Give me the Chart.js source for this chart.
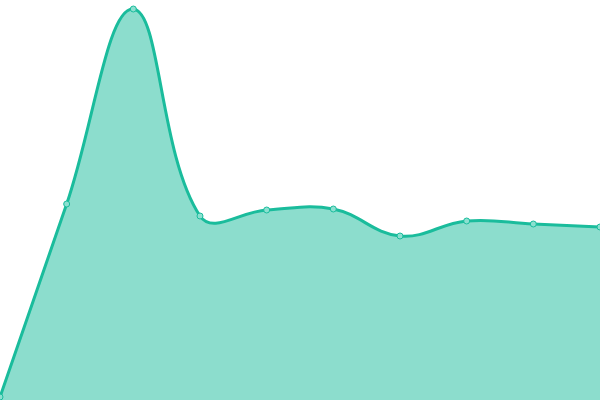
<!DOCTYPE html>
<html><head><meta charset="utf-8">
<script src="https://cdn.jsdelivr.net/npm/chart.js@4"></script>
<style>html,body{margin:0;padding:0;background:#fff}#w{width:600px;height:400px}</style>
</head><body><div id="w"><canvas id="c"></canvas></div>
<script>
const labels = ["1","2","3","4","5","6","7","8","9","10"];
const values = [3, 196, 391, 184, 190, 191, 164, 179, 176, 173];
new Chart(document.getElementById('c'), {
  type: 'line',
  data: { labels: labels, datasets: [{
    data: values,
    fill: true,
    backgroundColor: 'rgba(26,188,156,0.5)',
    borderColor: '#1abc9c',
    borderWidth: 3,
    tension: 0.4,
    pointRadius: 3,
    pointBorderWidth: 1,
    pointBackgroundColor: 'rgba(140,224,208,1)',
    pointBorderColor: '#1abc9c'
  }]},
  options: {
    responsive: true, maintainAspectRatio: false, animation: false,
    layout: { padding: 0, autoPadding: false },
    plugins: { legend: { display: false }, tooltip: { enabled: false } },
    scales: {
      x: { display: false, offset: false },
      y: { display: false, min: 0, max: 400 }
    }
  }
});
</script></body></html>
